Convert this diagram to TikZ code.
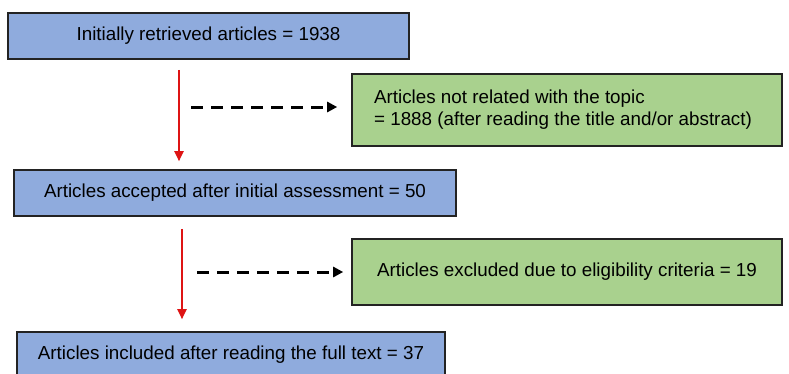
\documentclass[tikz,border=0pt]{standalone}
\usepackage{fontspec}
\setmainfont{Liberation Sans}
\usetikzlibrary{arrows.meta,calc}
\definecolor{boxblue}{RGB}{143,171,221}
\definecolor{boxgreen}{RGB}{169,209,142}
\definecolor{arrowred}{RGB}{222,20,20}
\definecolor{edgegray}{RGB}{35,35,35}
\tikzset{
  bluebox/.style={draw=edgegray, line width=1.6pt, fill=boxblue, minimum height=46pt,
    inner sep=0pt, font=\fontsize{18.8}{22}\selectfont},
  greenbox/.style={draw=edgegray, line width=1.6pt, fill=boxgreen,
    inner sep=0pt, font=\fontsize{18.8}{22}\selectfont},
  redarrow/.style={draw=arrowred, line width=2pt, -{Triangle[width=9pt,length=10pt]}},
  dasharrow/.style={draw=black, line width=3pt, dash pattern=on 12pt off 8pt,
    -{Triangle[width=10pt,length=10pt]}}
}
\begin{document}
\begin{tikzpicture}[x=1pt,y=-1pt]
\useasboundingbox (0,0) rectangle (789,373);
\clip (0,0) rectangle (789,373);
\node[bluebox, minimum width=401pt] (b1) at (208.5,36) {Initially retrieved articles = 1938};
\node[greenbox, minimum width=430pt, minimum height=72pt, align=left] (g1) at (567,110)
  {Articles not related with the topic\\= 1888 (after reading the title and/or abstract)\hspace*{8pt}};
\node[bluebox, minimum width=442pt] (b2) at (235,193) {Articles accepted after initial assessment = 50};
\node[greenbox, minimum width=430pt, minimum height=66pt] (g2) at (567,272)
  {Articles excluded due to eligibility criteria = 19};
\node[bluebox, minimum width=428pt] (b3) at (231,355) {Articles included after reading the full text = 37};
\coordinate (x1) at (179,0);
\coordinate (x2) at (182,0);
\coordinate (d1) at (191,107);
\coordinate (d2) at (197,272);
\draw[redarrow, shorten <=10pt, shorten >=8pt] (b1.south -| x1) -- (b2.north -| x1);
\draw[redarrow, shorten <=12pt, shorten >=12pt] (b2.south -| x2) -- (b3.north -| x2);
\draw[dasharrow, shorten >=14pt] (d1) -- (d1 -| g1.west);
\draw[dasharrow, shorten >=8pt] (d2) -- (d2 -| g2.west);
\end{tikzpicture}
\end{document}
